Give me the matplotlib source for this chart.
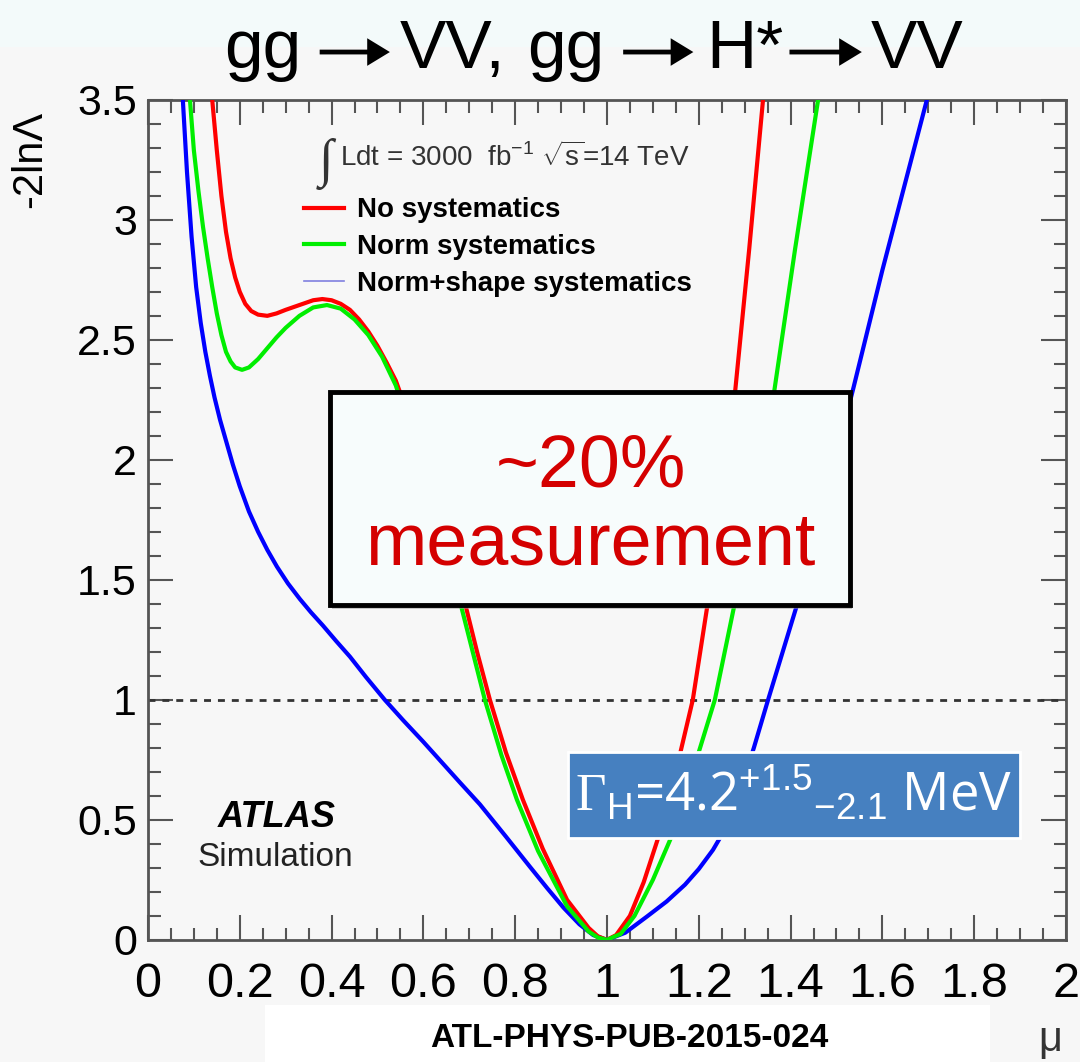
import matplotlib
matplotlib.use("Agg")
import matplotlib.pyplot as plt
from matplotlib.lines import Line2D
from matplotlib.patches import Rectangle, FancyArrow
from matplotlib.ticker import MultipleLocator

# curves (mu, -2lnL)
red_x = [0.130, 0.140, 0.150, 0.160, 0.170, 0.180, 0.190, 0.200, 0.212, 0.225,
         0.240, 0.260, 0.280, 0.300, 0.330, 0.360, 0.380, 0.400, 0.420, 0.440,
         0.460, 0.480, 0.500, 0.520, 0.540, 0.570, 0.600, 0.630, 0.660, 0.690,
         0.717, 0.745, 0.780, 0.817, 0.860, 0.913, 0.960, 0.980, 1.000, 1.020,
         1.050, 1.080, 1.115, 1.150, 1.187, 1.220, 1.250, 1.279, 1.310, 1.340, 1.350]
red_y = [3.75, 3.50, 3.29, 3.10, 2.95, 2.84, 2.76, 2.70, 2.65, 2.62,
         2.605, 2.60, 2.61, 2.625, 2.645, 2.665, 2.67, 2.665, 2.65, 2.625,
         2.585, 2.535, 2.475, 2.405, 2.33, 2.17, 1.99, 1.80, 1.60, 1.408,
         1.20, 1.00, 0.78, 0.583, 0.38, 0.167, 0.05, 0.015, 0.0, 0.02,
         0.10, 0.24, 0.445, 0.70, 1.00, 1.408, 1.82, 2.28, 2.88, 3.50, 3.70]

green_x = [0.088, 0.0915, 0.100, 0.110, 0.120, 0.130, 0.140, 0.150, 0.160, 0.170,
           0.180, 0.190, 0.205, 0.220, 0.240, 0.260, 0.280, 0.300, 0.330, 0.360,
           0.390, 0.420, 0.450, 0.480, 0.510, 0.540, 0.570, 0.600, 0.640, 0.680,
           0.734, 0.770, 0.804, 0.850, 0.913, 0.960, 0.980, 1.000, 1.030, 1.060,
           1.100, 1.144, 1.190, 1.235, 1.279, 1.320, 1.364, 1.410, 1.460, 1.470]
green_y = [3.60, 3.50, 3.29, 3.12, 2.97, 2.84, 2.72, 2.61, 2.52, 2.45,
           2.41, 2.385, 2.375, 2.385, 2.42, 2.465, 2.51, 2.55, 2.60, 2.635,
           2.645, 2.63, 2.585, 2.52, 2.43, 2.31, 2.13, 1.94, 1.68, 1.408,
           1.00, 0.77, 0.583, 0.37, 0.14, 0.035, 0.01, 0.0, 0.025, 0.10,
           0.25, 0.445, 0.72, 1.00, 1.408, 1.82, 2.28, 2.88, 3.50, 3.62]

blue_x = [0.072, 0.076, 0.085, 0.095, 0.105, 0.115, 0.125, 0.135, 0.145, 0.157,
          0.170, 0.185, 0.200, 0.220, 0.240, 0.260, 0.281, 0.305, 0.331, 0.355,
          0.381, 0.410, 0.440, 0.475, 0.516, 0.556, 0.600, 0.640, 0.680, 0.723,
          0.780, 0.832, 0.870, 0.905, 0.940, 0.970, 1.000, 1.040, 1.087, 1.130,
          1.170, 1.200, 1.231, 1.260, 1.290, 1.320, 1.351, 1.416, 1.480, 1.537,
          1.600, 1.697, 1.710]
blue_y = [3.62, 3.50, 3.20, 2.93, 2.72, 2.57, 2.45, 2.35, 2.26, 2.167,
          2.08, 1.98, 1.89, 1.785, 1.70, 1.625, 1.555, 1.485, 1.42, 1.365,
          1.31, 1.245, 1.18, 1.095, 1.00, 0.915, 0.825, 0.74, 0.655, 0.565,
          0.43, 0.305, 0.215, 0.135, 0.065, 0.02, 0.0, 0.03, 0.097, 0.16,
          0.23, 0.295, 0.375, 0.47, 0.62, 0.80, 1.00, 1.408, 1.87, 2.30,
          2.79, 3.50, 3.60]

labels = ["No systematics", "Norm systematics", "Norm+shape systematics"]
colors = ["#ff0000", "#00ee00", "#0000ff"]

plt.rcParams['font.family'] = ['Liberation Sans', 'DejaVu Sans']
plt.rcParams['mathtext.fontset'] = 'custom'
plt.rcParams['mathtext.rm'] = 'Liberation Serif'
plt.rcParams['mathtext.sf'] = 'Liberation Sans'

bg = '#f7f7f7'
fig = plt.figure(figsize=(10.8, 10.62), dpi=100, facecolor=bg)
ax = fig.add_axes([0.137, 0.115, 0.850, 0.791], facecolor=bg)

# top band behind the title
fig.patches.append(Rectangle((0, 0.956), 1, 0.044, transform=fig.transFigure,
                             facecolor='#f3fafa', edgecolor='none', zorder=0))

ax.plot(blue_x, blue_y, color=colors[2], lw=3, zorder=3, solid_joinstyle='round')
ax.plot(green_x, green_y, color=colors[1], lw=3, zorder=4, solid_joinstyle='round')
ax.plot(red_x, red_y, color=colors[0], lw=3, zorder=3, solid_joinstyle='round')
ax.axhline(1.0, color='#333333', lw=2, ls=(0, (2.5, 2.5)), zorder=2)

ax.set_xlim(0, 2)
ax.set_ylim(0, 3.5)
ax.xaxis.set_minor_locator(MultipleLocator(0.05))
ax.yaxis.set_minor_locator(MultipleLocator(0.1))
ax.set_xticks([0, 0.2, 0.4, 0.6, 0.8, 1, 1.2, 1.4, 1.6, 1.8, 2])
ax.set_xticklabels(["0", "0.2", "0.4", "0.6", "0.8", "1", "1.2", "1.4", "1.6", "1.8", "2"])
ax.set_yticks([0, 0.5, 1, 1.5, 2, 2.5, 3, 3.5])
ax.set_yticklabels(["0", "0.5", "1", "1.5", "2", "2.5", "3", "3.5"])
ax.tick_params(which='both', direction='in', top=True, right=True, color='#555555', width=1.5)
ax.tick_params(which='major', length=18)
ax.tick_params(which='minor', length=9)
ax.tick_params(axis='x', which='major', pad=16)
ax.tick_params(axis='y', which='major', pad=8)
for t in ax.get_xticklabels():
    t.set_fontfamily(['Liberation Sans Narrow', 'Liberation Sans'])
    t.set_fontsize(35)
for t in ax.get_yticklabels():
    t.set_fontsize(31)
for s in ax.spines.values():
    s.set_color('#555555')
    s.set_linewidth(2)

# legend
handles = [Line2D([], [], color=colors[0], lw=3),
           Line2D([], [], color=colors[1], lw=3),
           Line2D([], [], color='#8080e0', lw=1.2)]
ax.legend(handles, labels, loc='upper left', bbox_to_anchor=(0.158, 0.897),
          frameon=False, prop={'weight': 'bold', 'size': 20},
          handlelength=1.45, handletextpad=0.45, labelspacing=0.38, borderaxespad=0)
ax.text(0.183, 0.924, r'$\int$', transform=ax.transAxes, fontsize=38,
        color='#333333', va='center', ha='left')
ax.text(0.209, 0.932, r'Ldt = 3000  fb$^{\mathsf{-1}}$ $\sqrt{\mathsf{s}}$=14 TeV',
        transform=ax.transAxes, fontsize=20, color='#333333', va='center', ha='left')

ax.text(0.1405, 0.146, 'ATLAS', transform=ax.transAxes, fontsize=26,
        fontweight='bold', fontstyle='italic', ha='center', va='center')
ax.text(0.139, 0.098, 'Simulation', transform=ax.transAxes, fontsize=24,
        ha='center', va='center', color='#222222')

# title: text pieces with solid-headed arrows between them
ty = 0.936
ay = 0.951
for x, s in [(0.2074, 'gg'), (0.370, 'VV,'), (0.488, 'gg'), (0.654, 'H*'), (0.806, 'VV')]:
    fig.text(x, ty, s, fontsize=50, ha='left', va='baseline')
for x0, x1 in [(0.296, 0.361), (0.577, 0.642), (0.731, 0.798)]:
    fig.patches.append(FancyArrow(x0, ay, x1 - x0, 0, width=0.0045, head_width=0.026,
                                  head_length=0.021, length_includes_head=True,
                                  transform=fig.transFigure, color='black', lw=0))

fig.text(0.028, 0.85, '-2ln\u039b', fontsize=30,
         rotation=90, ha='center', va='center')
fig.text(0.972, 0.021, '\u03bc', fontsize=30, ha='center', va='center', color='#333333')

# reference note at the bottom
fig.patches.append(Rectangle((0.245, 0.0), 0.672, 0.054, transform=fig.transFigure,
                             facecolor='white', edgecolor='none', zorder=1))
fig.text(0.583, 0.022, 'ATL-PHYS-PUB-2015-024', fontsize=24, fontweight='bold',
         family=['Liberation Sans Narrow', 'Liberation Sans'], ha='center', va='center')

# "~20% measurement" box with a soft shadow
fig.patches.append(Rectangle((0.3076, 0.4263), 0.4815, 0.2006, transform=fig.transFigure,
                             facecolor='#999999', edgecolor='none', alpha=0.5, zorder=5))
fig.patches.append(Rectangle((0.3056, 0.4303), 0.4815, 0.2006, transform=fig.transFigure,
                             facecolor='#f7fcfc', edgecolor='black', lw=3.5, zorder=6))
fig.text(0.547, 0.560, '~20%', fontsize=53, color='#d40000', ha='center', va='center', zorder=7)
fig.text(0.547, 0.487, 'measurement', fontsize=53, color='#d40000', ha='center', va='center', zorder=7)

# width result box
fig.patches.append(Rectangle((0.526, 0.2109), 0.4185, 0.081, transform=fig.transFigure,
                             facecolor='#4680c0', edgecolor='white', lw=2, zorder=5))
fig.text(0.735, 0.252, r'$\Gamma_{\mathsf{H}}$=4.2${}^{\mathsf{+1.5}}{}_{\mathsf{-2.1}}$ MeV',
         fontsize=38, color='white', ha='center', va='center',
         family=['Open Sans', 'DejaVu Sans'], zorder=7)

fig.savefig('out.png', dpi=100, facecolor=bg)
